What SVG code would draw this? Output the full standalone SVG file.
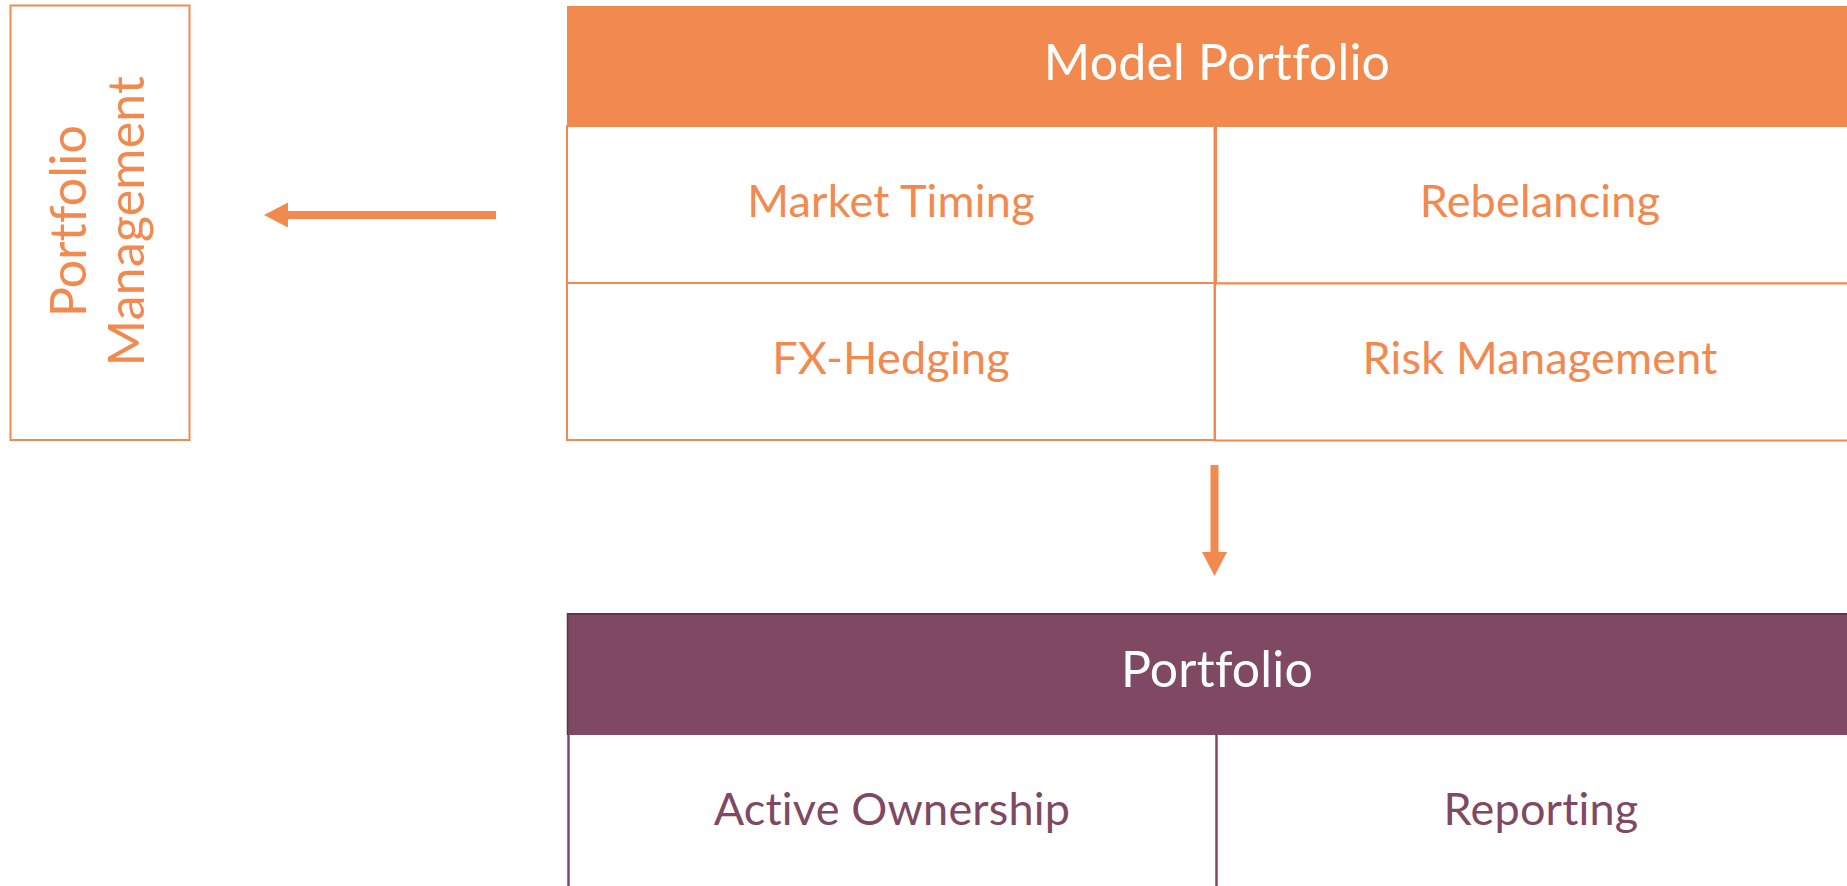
<svg xmlns="http://www.w3.org/2000/svg" width="1847" height="886" viewBox="0 0 1847 886">
<style>
  .lbl { font-family: Lato, "Open Sans", sans-serif; text-anchor: middle; font-variant-ligatures: none; font-feature-settings: "liga" 0, "clig" 0; letter-spacing: 0.2px; }
  .org { fill: #F2894F; }
  .pur { fill: #7F4963; }
  .wht { fill: #FFFFFF; }
  .body { font-size: 45px; }
  .head { font-size: 50px; }
  .ocell { fill: #FFFFFF; stroke: #F2894F; stroke-width: 2; }
  .pline { stroke: #7F4963; stroke-width: 2.5; fill: none; }
  .conn { stroke: #F2894F; stroke-width: 8; fill: none; }
</style>
<defs>
  <marker id="ah" markerUnits="userSpaceOnUse" markerWidth="24" markerHeight="25" refX="0" refY="12.5" orient="auto" overflow="visible">
    <path d="M0,0 L24,12.5 L0,25 Z" fill="#F2894F"/>
  </marker>
</defs>
<rect width="1847" height="886" fill="#FFFFFF"/>

<g id="portfolio-management">
  <rect x="10.5" y="5.5" width="179" height="434.5" fill="#FFFFFF" stroke="#F2894F" stroke-width="2"/>
  <text class="lbl org head" transform="translate(86,221) rotate(-90)">Portfolio</text>
  <text class="lbl org head" transform="translate(143.5,221) rotate(-90)">Management</text>
</g>

<g id="model-portfolio">
  <rect x="567" y="6" width="1300" height="120" fill="#F2894F"/>
  <text class="lbl wht head" x="1217" y="80">Model Portfolio</text>
</g>
<g id="market-timing">
  <rect class="ocell" x="567" y="126" width="647.5" height="157"/>
  <text class="lbl org body" x="891" y="217">Market Timing</text>
</g>
<g id="rebelancing">
  <rect class="ocell" x="1216" y="126" width="651" height="157.5"/>
  <text class="lbl org body" x="1540" y="217">Rebelancing</text>
</g>
<g id="fx-hedging">
  <rect class="ocell" x="567" y="283" width="647.5" height="157"/>
  <text class="lbl org body" x="891" y="374">FX-Hedging</text>
</g>
<g id="risk-management">
  <rect class="ocell" x="1215" y="283.5" width="652" height="157"/>
  <text class="lbl org body" x="1540" y="374">Risk Management</text>
</g>

<g id="portfolio">
  <rect x="567" y="613" width="1300" height="122" fill="#7F4963"/>
  <line x1="567" y1="614" x2="1867" y2="614" stroke="#5E3547" stroke-width="2"/>
  <line x1="567.5" y1="613" x2="567.5" y2="735" stroke="#5E3547" stroke-width="1.5"/>
  <text class="lbl wht head" x="1217" y="687">Portfolio</text>
</g>
<g id="active-ownership">
  <line class="pline" x1="568.5" y1="735" x2="568.5" y2="890"/>
  <text class="lbl pur body" x="892" y="825">Active Ownership</text>
</g>
<g id="reporting">
  <line class="pline" x1="1216.5" y1="735" x2="1216.5" y2="890"/>
  <text class="lbl pur body" x="1541" y="825">Reporting</text>
</g>

<g id="connectors">
  <line class="conn" x1="496" y1="215" x2="288" y2="215" marker-end="url(#ah)"/>
  <line class="conn" x1="1214.5" y1="465" x2="1214.5" y2="552" marker-end="url(#ah)"/>
</g>
</svg>
